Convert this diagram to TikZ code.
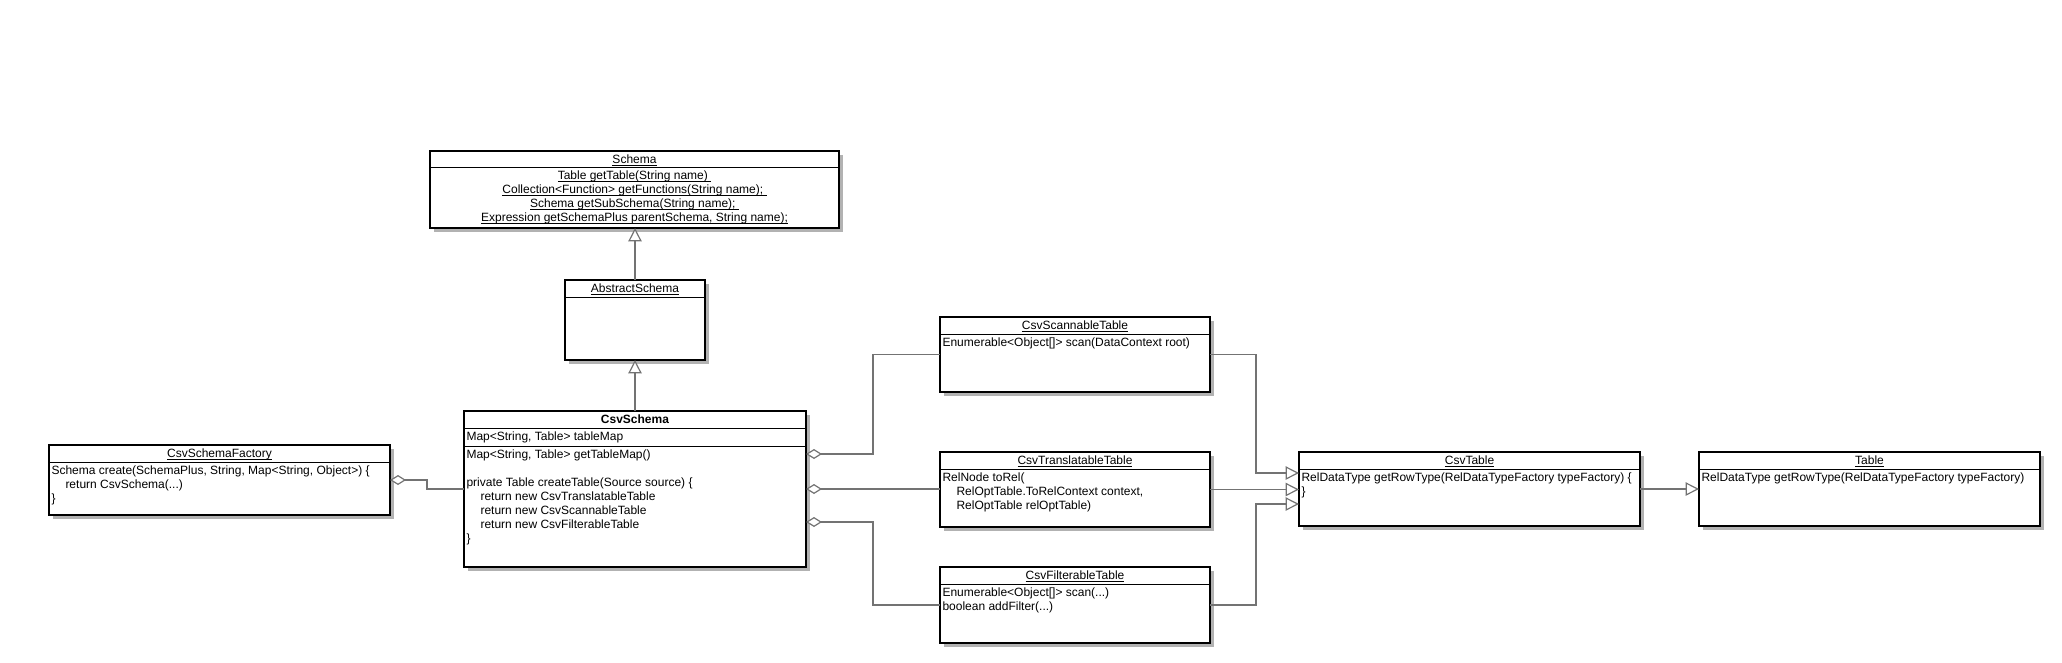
\documentclass[tikz,border=0pt]{standalone}
\usepackage{fontspec}
\setmainfont{Liberation Sans}
\usetikzlibrary{calc,fit,arrows.meta}

\newcommand\ulabel[1]{$\underline{\smash{\mbox{#1}}}$}

\tikzset{every picture/.style={line width=0.75pt}}
\tikzset{
  umlbox/.style={draw=black, line width=1.5pt, fill=white, inner sep=0pt, outer sep=0pt,
    preaction={fill=black!30, draw=none, transform canvas={xshift=3pt, yshift=-3pt}}},
  sepline/.style={draw=black, line width=0.75pt},
  title/.style={inner sep=0pt, anchor=base, font=\fontsize{9}{10.5}\selectfont},
  body/.style={inner sep=0pt, anchor=north west, align=left, font=\fontsize{9}{10.5}\selectfont},
  link/.style={draw=black!55, line width=0.9pt},
  inherit/.style={link, -{Triangle[open, length=10pt, width=10pt, fill=white]}},
  aggr/.style={link, {Diamond[open, length=12pt, width=7.5pt, fill=white]}-},
}

\begin{document}
\begin{tikzpicture}[x=0.75pt,y=0.75pt,yscale=-1,xscale=1]
\path [use as bounding box] (0,0) rectangle (2062,662);

%Class Schema
\node [umlbox, fit={(430,151) (839,228)}] (schema) {};
\draw [sepline] ($(schema.north west)+(0,16)$) -- ($(schema.north east)+(0,16)$);
\node [title] (schemaTitle) at ($(schema.north)+(0,12)$) {\ulabel{Schema}};
\node [body, anchor=north, align=center] (schemaBody) at ($(schema.north)+(0,18)$) {\strut\ulabel{Table getTable(String name)\ }\\ \ulabel{Collection<Function> getFunctions(String name);\ }\\ \ulabel{Schema getSubSchema(String name);\ }\\ \ulabel{Expression getSchemaPlus parentSchema, String name);}};

%Class AbstractSchema
\node [umlbox, fit={(565,280) (705,360)}] (abstractSchema) {};
\draw [sepline] ($(abstractSchema.north west)+(0,17)$) -- ($(abstractSchema.north east)+(0,17)$);
\node [title] (abstractSchemaTitle) at ($(abstractSchema.north)+(0,12.5)$) {\ulabel{AbstractSchema}};

%Class CsvSchemaFactory
\node [umlbox, fit={(49,445) (390,515)}] (csvSchemaFactory) {};
\draw [sepline] ($(csvSchemaFactory.north west)+(0,17)$) -- ($(csvSchemaFactory.north east)+(0,17)$);
\node [title] (csvSchemaFactoryTitle) at ($(csvSchemaFactory.north)+(0,12.5)$) {\ulabel{CsvSchemaFactory}};
\node [body] (csvSchemaFactoryBody) at ($(csvSchemaFactory.north west)+(2,19.5)$) {\strut Schema create(SchemaPlus, String, Map<String, Object>) \{\\ \hspace*{10.5pt}return CsvSchema(...)\\ \}};

%Class CsvSchema
\node [umlbox, fit={(464,411) (806,567)}] (csvSchema) {};
\draw [sepline] ($(csvSchema.north west)+(0,17)$) -- ($(csvSchema.north east)+(0,17)$);
\draw [sepline] ($(csvSchema.north west)+(0,35)$) -- ($(csvSchema.north east)+(0,35)$);
\node [title] (csvSchemaTitle) at ($(csvSchema.north)+(0,12.5)$) {\textbf{CsvSchema}};
\node [body] (csvSchemaField) at ($(csvSchema.north west)+(2,19.5)$) {\strut Map<String, Table> tableMap};
\node [body] (csvSchemaBody) at ($(csvSchema.north west)+(2,37.5)$) {\strut Map<String, Table> getTableMap()\\[10.5pt] private Table createTable(Source source) \{\\ \hspace*{10.5pt}return new CsvTranslatableTable\\ \hspace*{10.5pt}return new CsvScannableTable\\ \hspace*{10.5pt}return new CsvFilterableTable\\ \}};

%Class CsvScannableTable
\node [umlbox, fit={(940,317) (1210,392)}] (csvScannable) {};
\draw [sepline] ($(csvScannable.north west)+(0,17)$) -- ($(csvScannable.north east)+(0,17)$);
\node [title] (csvScannableTitle) at ($(csvScannable.north)+(0,12.5)$) {\ulabel{CsvScannableTable}};
\node [body] (csvScannableBody) at ($(csvScannable.north west)+(2,19.5)$) {\strut Enumerable<Object[]> scan(DataContext root)};

%Class CsvTranslatableTable
\node [umlbox, fit={(940,452) (1210,527)}] (csvTranslatable) {};
\draw [sepline] ($(csvTranslatable.north west)+(0,17)$) -- ($(csvTranslatable.north east)+(0,17)$);
\node [title] (csvTranslatableTitle) at ($(csvTranslatable.north)+(0,12.5)$) {\ulabel{CsvTranslatableTable}};
\node [body] (csvTranslatableBody) at ($(csvTranslatable.north west)+(2,19.5)$) {\strut RelNode toRel(\\ \hspace*{10.5pt}RelOptTable.ToRelContext context,\\ \hspace*{10.5pt}RelOptTable relOptTable)};

%Class CsvFilterableTable
\node [umlbox, fit={(940,567) (1210,643)}] (csvFilterable) {};
\draw [sepline] ($(csvFilterable.north west)+(0,17)$) -- ($(csvFilterable.north east)+(0,17)$);
\node [title] (csvFilterableTitle) at ($(csvFilterable.north)+(0,12.5)$) {\ulabel{CsvFilterableTable}};
\node [body] (csvFilterableBody) at ($(csvFilterable.north west)+(2,19.5)$) {\strut Enumerable<Object[]> scan(...)\\ boolean addFilter(...)};

%Class CsvTable
\node [umlbox, fit={(1299,452) (1640,526)}] (csvTable) {};
\draw [sepline] ($(csvTable.north west)+(0,17)$) -- ($(csvTable.north east)+(0,17)$);
\node [title] (csvTableTitle) at ($(csvTable.north)+(0,12.5)$) {\ulabel{CsvTable}};
\node [body] (csvTableBody) at ($(csvTable.north west)+(2,19.5)$) {\strut RelDataType getRowType(RelDataTypeFactory typeFactory) \{\\ \}};

%Class Table
\node [umlbox, fit={(1699,452) (2040,526)}] (table) {};
\draw [sepline] ($(table.north west)+(0,17)$) -- ($(table.north east)+(0,17)$);
\node [title] (tableTitle) at ($(table.north)+(0,12.5)$) {\ulabel{Table}};
\node [body] (tableBody) at ($(table.north west)+(2,19.5)$) {\strut RelDataType getRowType(RelDataTypeFactory typeFactory)};

%Inheritance
\draw [inherit] (abstractSchema.north) -- (abstractSchema.north |- schema.south);
\draw [inherit] (csvSchema.north) -- (csvSchema.north |- abstractSchema.south);
\draw [inherit] (csvScannable.east) -- ++(46,0) |- ($(csvTable.west)+(0,-16)$);
\draw [inherit] (csvTranslatable.east) -- (csvTranslatable.east -| csvTable.west);
\draw [inherit] (csvFilterable.east) -- ++(46,0) |- ($(csvTable.west)+(0,15)$);
\draw [inherit] (csvTable.east) -- (table.west);

%Aggregation
\draw [aggr] (csvSchemaFactory.east) -- ++(37,0) |- (csvSchema.west);
\draw [aggr] ($(csvSchema.east)+(0,-35)$) -- ++(67,0) |- (csvScannable.west);
\draw [aggr] (csvSchema.east) -- (csvSchema.east -| csvTranslatable.west);
\draw [aggr] ($(csvSchema.east)+(0,33)$) -- ++(67,0) |- (csvFilterable.west);

\end{tikzpicture}
\end{document}
